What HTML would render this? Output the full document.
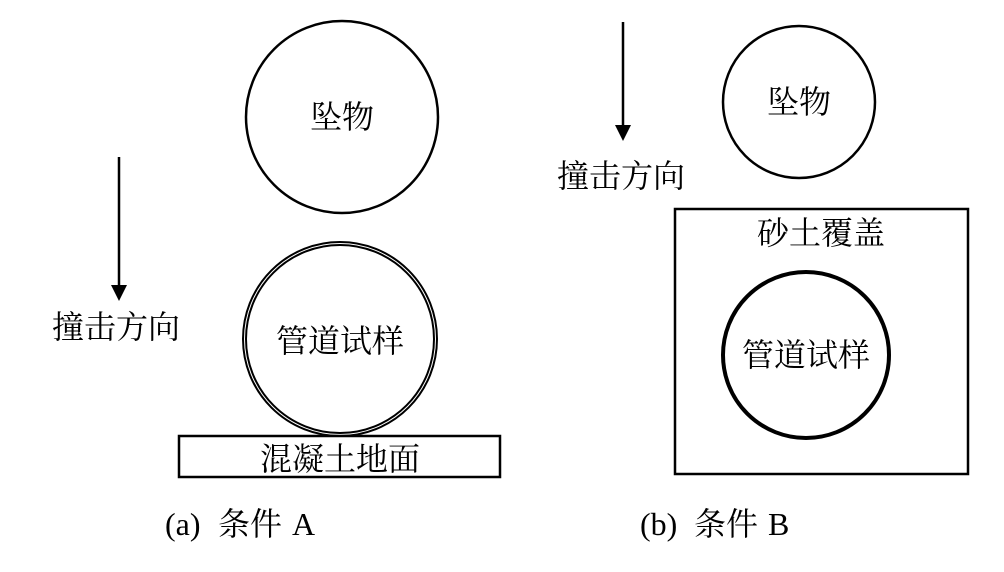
<!DOCTYPE html>
<html><head><meta charset="utf-8"><style>body{margin:0;background:#fff}</style></head><body>
<svg width="1004" height="567" xmlns="http://www.w3.org/2000/svg" font-family="'Liberation Serif','Noto Serif CJK SC',serif" fill="none" stroke="#000">
<circle cx="342" cy="117" r="96" stroke-width="2.5"/>
<circle cx="340" cy="339" r="97" stroke-width="2"/>
<circle cx="340" cy="339" r="94" stroke-width="2"/>
<rect x="179" y="436" width="321" height="41" stroke-width="2.5"/>
<line x1="119" y1="157" x2="119" y2="288" stroke-width="2.5"/>
<polygon points="111,285 127,285 119,301" fill="#000" stroke="none"/>
<circle cx="799" cy="102" r="76" stroke-width="2.5"/>
<line x1="623" y1="22" x2="623" y2="128" stroke-width="2.5"/>
<polygon points="615,125 631,125 623,141" fill="#000" stroke="none"/>
<rect x="675" y="209" width="293" height="265" stroke-width="2.5"/>
<circle cx="806" cy="355" r="83" stroke-width="4"/>
<g fill="#000" stroke="none" font-size="32" text-anchor="middle">
<text x="342" y="128">坠物</text>
<text x="340" y="352">管道试样</text>
<text x="340" y="470">混凝土地面</text>
<text x="116" y="338">撞击方向</text>
<text x="799" y="113">坠物</text>
<text x="621" y="187">撞击方向</text>
<text x="821" y="244">砂土覆盖</text>
<text x="806" y="366">管道试样</text>
</g>
<g fill="#000" stroke="none" font-size="32">
<text x="165" y="535">(a)</text>
<text x="218" y="535">条件</text>
<text x="292" y="535">A</text>
<text x="640" y="535">(b)</text>
<text x="694" y="535">条件</text>
<text x="768" y="535">B</text>
</g>
</svg>
</body></html>
